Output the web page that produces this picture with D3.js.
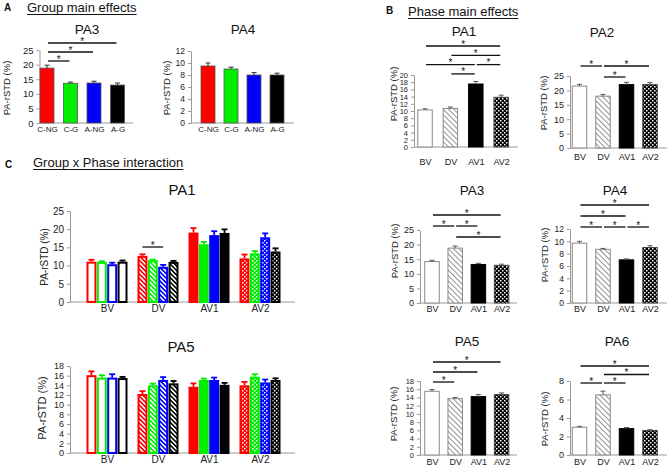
<!DOCTYPE html>
<html><head><meta charset="utf-8">
<script src="https://cdn.jsdelivr.net/npm/d3@7"></script>
<style>body{margin:0;background:#fff}svg{display:block;font-family:"Liberation Sans",Arial,sans-serif}</style>
</head><body><svg id="c" width="669" height="468"></svg>
<script>
// ---------------- DATA ----------------
const groups = ["C-NG", "C-G", "A-NG", "A-G"];
const phases = ["BV", "DV", "AV1", "AV2"];
const groupColors = ["#ff0000", "#00ee00", "#0000ff", "#000000"];

// Panel A: group main effects
const aPA3Values = [18.8, 13.6, 13.7, 13.0];
const aPA3Errors = [1.0, 0.4, 0.6, 0.7];
const aPA3Sig = [[0, 3, 0], [0, 2, 1], [0, 1, 2]];   // [from, to, stacking row]
const aPA4Values = [9.5, 9.0, 8.0, 8.0];
const aPA4Errors = [0.5, 0.3, 0.4, 0.3];
const aPA4Sig = [];

// Panel B: phase main effects
const bPA1Values = [10.3, 10.7, 17.5, 13.8];
const bPA1Errors = [0.3, 0.4, 0.7, 0.6];
const bPA1Sig = [[0, 3, 0], [1, 3, 1], [0, 2, 2], [2, 3, 2], [1, 2, 3]];
const bPA2Values = [21.5, 18.0, 22.0, 22.0];
const bPA2Errors = [0.6, 0.6, 0.8, 0.7];
const bPA2Sig = [[0, 1, 0], [1, 3, 0], [1, 2, 1]];
const bPA3Values = [14.2, 18.8, 13.2, 12.9];
const bPA3Errors = [0.4, 0.7, 0.4, 0.4];
const bPA3Sig = [[0, 3, 0], [0, 1, 1], [1, 2, 1], [1, 3, 2]];
const bPA4Values = [9.7, 8.7, 7.0, 9.0];
const bPA4Errors = [0.3, 0.15, 0.15, 0.3];
const bPA4Sig = [[0, 3, 0], [0, 2, 1], [0, 1, 2], [1, 2, 2], [2, 3, 2]];
const bPA5Values = [15.5, 13.7, 14.2, 14.7];
const bPA5Errors = [0.4, 0.3, 0.5, 0.4];
const bPA5Sig = [[0, 3, 0], [0, 2, 1], [0, 1, 2]];
const bPA6Values = [3.0, 6.5, 2.85, 2.65];
const bPA6Errors = [0.1, 0.4, 0.12, 0.08];
const bPA6Sig = [[0, 3, 0], [1, 3, 1], [0, 1, 2], [1, 2, 2]];

// Panel C: group x phase interaction (rows = phases, columns = groups)
const cPA1Values = [[10.8, 10.75, 10.1, 10.8], [12.4, 11.2, 9.4, 10.75], [18.8, 15.6, 18.1, 18.7], [11.7, 13.1, 17.5, 13.6]];
const cPA1Errors = [[0.8, 0.45, 0.7, 0.6], [0.7, 0.45, 0.8, 0.55], [1.5, 0.9, 1.35, 1.25], [1.35, 0.9, 1.35, 1.15]];
const cPA1Sig = [[1, 0, 2]];   // [phase, from group, to group]
const cPA5Values = [[15.9, 15.4, 15.4, 15.3], [12.0, 13.8, 14.9, 14.2], [13.5, 14.9, 14.9, 13.9], [13.8, 15.6, 14.4, 14.9]];
const cPA5Errors = [[1.0, 0.7, 0.9, 0.45], [0.8, 0.55, 0.8, 0.7], [0.9, 0.5, 0.7, 0.6], [0.9, 0.7, 0.8, 0.55]];
const cPA5Sig = [];

// ---------------- DRAWING ----------------
const svg = d3.select("#c");
const FONT = '"Liberation Sans", Arial, sans-serif';
const defs = svg.append("defs");
const AX = "#999";

function hatch(id, color, period, sw) {
  const p = defs.append("pattern").attr("id", id).attr("patternUnits", "userSpaceOnUse")
    .attr("width", period).attr("height", period).attr("patternTransform", "rotate(-45)");
  p.append("rect").attr("width", period).attr("height", period).attr("fill", "#fff");
  p.append("rect").attr("width", sw).attr("height", period).attr("fill", color);
}
function checker(id, color) {
  const p = defs.append("pattern").attr("id", id).attr("patternUnits", "userSpaceOnUse")
    .attr("width", 4).attr("height", 4);
  p.append("rect").attr("width", 4).attr("height", 4).attr("fill", color);
  p.append("rect").attr("x", 0).attr("y", 0).attr("width", 1.5).attr("height", 1.5).attr("fill", "#fff");
  p.append("rect").attr("x", 2).attr("y", 2).attr("width", 1.5).attr("height", 1.5).attr("fill", "#fff");
}
hatch("hatch-gray", "#888", 3.8, 0.9);
checker("check-black", "#000");
groupColors.forEach((c, i) => { hatch("hatch-" + i, c, 3.2, 1.6); checker("check-" + i, c); });

function header(letter, lx, ly, title, tx, ty) {
  svg.append("text").attr("x", lx).attr("y", ly).attr("font-family", FONT).attr("font-weight", "bold")
    .attr("font-size", 10).attr("fill", "#111").text(letter);
  const t = svg.append("text").attr("x", tx).attr("y", ty).attr("font-family", FONT)
    .attr("font-size", 13).attr("fill", "#111").text(title);
  const w = t.node().getComputedTextLength();
  svg.append("line").attr("x1", tx).attr("x2", tx + w).attr("y1", ty + 2.5).attr("y2", ty + 2.5)
    .attr("stroke", "#111").attr("stroke-width", 1);
}

function axes(cfg, y, xs, cats) {
  const g = svg.append("g");
  const ya = g.append("g").attr("transform", `translate(${cfg.axisX},0)`)
    .call(d3.axisLeft(y).tickValues(d3.range(0, cfg.max + 1e-9, cfg.tick)).tickSize(3).tickSizeOuter(0).tickPadding(3));
  ya.attr("font-family", FONT).attr("font-size", cfg.tickFs || 9.5);
  ya.select(".domain").attr("stroke", AX);
  ya.selectAll(".tick line").attr("stroke", AX);
  ya.selectAll(".tick text").attr("fill", "#222");
  g.append("line").attr("x1", cfg.axisX).attr("x2", cfg.axisEnd).attr("y1", cfg.y0).attr("y2", cfg.y0)
    .attr("stroke", AX).attr("stroke-width", 1);
  const catFs = cfg.catFs || 9;
  const xa = g.append("g").attr("transform", `translate(0,${cfg.y0})`)
    .call(d3.axisBottom(xs).tickSize(0).tickPadding(cfg.catY - cfg.y0 - 0.71 * catFs));
  xa.attr("font-family", FONT).attr("font-size", catFs);
  xa.select(".domain").remove();
  xa.selectAll(".tick text").attr("fill", "#222");
  // titles
  svg.append("text").attr("x", cfg.titleX).attr("y", cfg.titleY).attr("text-anchor", "middle")
    .attr("font-family", FONT).attr("font-size", cfg.titleFs || 13.5).attr("fill", "#111").text(cfg.title);
  svg.append("text").attr("transform", `translate(${cfg.ylabX},${cfg.ylabY}) rotate(-90)`)
    .attr("text-anchor", "middle").attr("font-family", FONT).attr("font-size", cfg.ylabFs || 9.5)
    .attr("fill", "#222").text("PA-rSTD (%)");
}

function sigMarks(lines) {
  lines.forEach(s => {
    svg.append("line").attr("x1", s.x1).attr("x2", s.x2).attr("y1", s.y).attr("y2", s.y)
      .attr("stroke", "#111").attr("stroke-width", 1.3);
    svg.append("text").attr("x", (s.x1 + s.x2) / 2).attr("y", s.y + 1.5).attr("text-anchor", "middle")
      .attr("font-family", FONT).attr("font-size", 10).attr("fill", "#111").text("*");
  });
}

function simplePanel(cfg, cats, values, errors, sig, style) {
  const y = d3.scaleLinear().domain([0, cfg.max]).range([cfg.y0, cfg.yTop]);
  const x = d3.scalePoint().domain(cats).range([cfg.x0, cfg.x0 + 3 * cfg.step]);
  axes(cfg, y, x, cats);
  const g = svg.append("g");
  cats.forEach((c, i) => {
    const st = style(i);
    const cx = x(c);
    g.append("rect").attr("x", cx - cfg.barW / 2).attr("y", y(values[i]))
      .attr("width", cfg.barW).attr("height", y(0) - y(values[i]))
      .attr("fill", st.fill).attr("stroke", st.stroke).attr("stroke-width", st.sw);
    const yt = y(values[i] + errors[i]);
    g.append("line").attr("x1", cx).attr("x2", cx).attr("y1", y(values[i])).attr("y2", yt)
      .attr("stroke", st.err).attr("stroke-width", 1);
    g.append("line").attr("x1", cx - 2.5).attr("x2", cx + 2.5).attr("y1", yt).attr("y2", yt)
      .attr("stroke", st.err).attr("stroke-width", 1);
  });
  sigMarks(sig.map(([a, b, r]) => ({ x1: x(cats[a]) + 1, x2: x(cats[b]) - 1, y: cfg.sigY0 + r * cfg.sigGap })));
}

const styleA = i => ({ fill: groupColors[i], stroke: "#555", sw: 0.8, err: "#333" });
const phaseFill = ["#fff", "url(#hatch-gray)", "#000", "url(#check-black)"];
const phaseStroke = ["#888", "#888", "#000", "#444"];
const styleB = i => ({ fill: phaseFill[i], stroke: phaseStroke[i], sw: 1, err: "#555" });

// Headers
header("A", 4, 11, "Group main effects", 27, 12);
header("B", 386, 14, "Phase main effects", 408, 16);
header("C", 5, 168, "Group x Phase interaction", 33, 167);

// Panel A
simplePanel({ x0: 47, step: 23.5, barW: 14, axisX: 39.5, axisEnd: 133, y0: 123, yTop: 50, max: 25, tick: 5, catFs: 8,
  title: "PA3", titleX: 87, titleY: 34, ylabX: 10, ylabY: 88, catY: 132, sigY0: 43, sigGap: 9 },
  groups, aPA3Values, aPA3Errors, aPA3Sig, styleA);
simplePanel({ x0: 208, step: 23, barW: 14, axisX: 191, axisEnd: 294, y0: 123, yTop: 51, max: 12, tick: 2, tickFs: 8.5, catFs: 8,
  title: "PA4", titleX: 243, titleY: 34, ylabX: 170, ylabY: 88, catY: 132, sigY0: 43, sigGap: 9 },
  groups, aPA4Values, aPA4Errors, aPA4Sig, styleA);

// Panel B
simplePanel({ x0: 425, step: 25.4, barW: 14.5, axisX: 414, axisEnd: 518, y0: 147, yTop: 75, max: 20, tick: 2, tickFs: 7.5,
  title: "PA1", titleX: 464, titleY: 36, ylabX: 397, ylabY: 94, catY: 165, sigY0: 46, sigGap: 9.3 },
  phases, bPA1Values, bPA1Errors, bPA1Sig, styleB);
simplePanel({ x0: 579.5, step: 23.5, barW: 14.5, axisX: 570, axisEnd: 667, y0: 148, yTop: 76, max: 25, tick: 5, tickFs: 9,
  title: "PA2", titleX: 602, titleY: 37, ylabX: 547, ylabY: 103, catY: 160, sigY0: 66, sigGap: 11 },
  phases, bPA2Values, bPA2Errors, bPA2Sig, styleB);
simplePanel({ x0: 432, step: 23.2, barW: 14.5, axisX: 420, axisEnd: 517, y0: 303, yTop: 230, max: 25, tick: 5, tickFs: 9,
  title: "PA3", titleX: 472, titleY: 195, ylabX: 398, ylabY: 251, catY: 312, sigY0: 215, sigGap: 11 },
  phases, bPA3Values, bPA3Errors, bPA3Sig, styleB);
simplePanel({ x0: 579.5, step: 23.5, barW: 14.5, axisX: 570, axisEnd: 667, y0: 303, yTop: 229, max: 12, tick: 2, tickFs: 8.5,
  title: "PA4", titleX: 615, titleY: 195, ylabX: 548, ylabY: 255, catY: 312, sigY0: 205, sigGap: 11 },
  phases, bPA4Values, bPA4Errors, bPA4Sig, styleB);
simplePanel({ x0: 432, step: 23.2, barW: 14.5, axisX: 420, axisEnd: 517, y0: 455, yTop: 381, max: 18, tick: 2, tickFs: 7.5,
  title: "PA5", titleX: 467, titleY: 346, ylabX: 397, ylabY: 414, catY: 465, sigY0: 362, sigGap: 10 },
  phases, bPA5Values, bPA5Errors, bPA5Sig, styleB);
simplePanel({ x0: 579.5, step: 23.5, barW: 14.5, axisX: 570, axisEnd: 667, y0: 455, yTop: 381, max: 8, tick: 2, tickFs: 9,
  title: "PA6", titleX: 617, titleY: 346, ylabX: 548, ylabY: 419, catY: 465, sigY0: 366, sigGap: 8.5 },
  phases, bPA6Values, bPA6Errors, bPA6Sig, styleB);

// Panel C
function groupedPanel(cfg, values, errors, sig) {
  const y = d3.scaleLinear().domain([0, cfg.max]).range([cfg.y0, cfg.yTop]);
  const x = d3.scalePoint().domain(phases).range([cfg.x0, cfg.x0 + 3 * cfg.step]);
  const xi = d3.scaleBand().domain(d3.range(groups.length)).range([-cfg.groupW / 2, cfg.groupW / 2]).paddingInner(0.04);
  axes(cfg, y, x, phases);
  const g = svg.append("g");
  phases.forEach((p, pi) => {
    groups.forEach((gr, gi) => {
      const col = groupColors[gi];
      const fill = pi === 0 ? "#fff" : pi === 1 ? `url(#hatch-${gi})` : pi === 2 ? col : `url(#check-${gi})`;
      const bx = x(p) + xi(gi);
      const bw = xi.bandwidth();
      const v = values[pi][gi], e = errors[pi][gi];
      g.append("rect").attr("x", bx + 1).attr("y", y(v)).attr("width", bw - 2).attr("height", y(0) - y(v))
        .attr("fill", fill).attr("stroke", col).attr("stroke-width", 2);
      const cx = bx + bw / 2;
      const yt = y(v + e);
      g.append("line").attr("x1", cx).attr("x2", cx).attr("y1", y(v) - 1).attr("y2", yt)
        .attr("stroke", col).attr("stroke-width", 1.8);
      g.append("line").attr("x1", cx - 3).attr("x2", cx + 3).attr("y1", yt).attr("y2", yt)
        .attr("stroke", col).attr("stroke-width", 1.8);
    });
  });
  sigMarks(sig.map(([p, a, b]) => ({
    x1: x(phases[p]) + xi(a) + xi.bandwidth() / 2, x2: x(phases[p]) + xi(b) + xi.bandwidth() / 2, y: cfg.sigY
  })));
}
groupedPanel({ x0: 107, step: 51, groupW: 41, axisX: 70, axisEnd: 295, y0: 302, yTop: 211, max: 25, tick: 5, tickFs: 10, catFs: 10,
  title: "PA1", titleX: 182, titleY: 195, titleFs: 15, ylabX: 48, ylabY: 257, ylabFs: 10, catY: 312, sigY: 247 },
  cPA1Values, cPA1Errors, cPA1Sig);
groupedPanel({ x0: 107, step: 51, groupW: 41, axisX: 70, axisEnd: 295, y0: 453, yTop: 366, max: 18, tick: 2, tickFs: 9, catFs: 10,
  title: "PA5", titleX: 181, titleY: 352, titleFs: 15, ylabX: 46, ylabY: 408, ylabFs: 11, catY: 463, sigY: 0 },
  cPA5Values, cPA5Errors, cPA5Sig);
</script></body></html>
